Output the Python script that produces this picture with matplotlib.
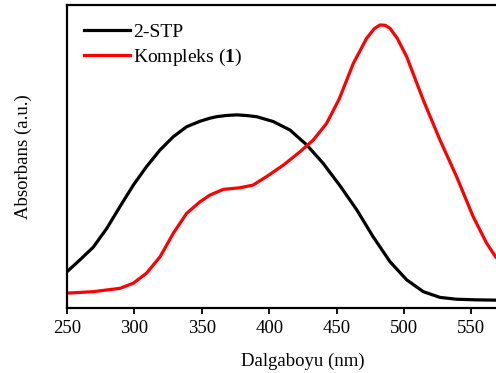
import matplotlib
matplotlib.use("Agg")
from matplotlib import pyplot as plt

# Data (absorbance in arbitrary units)
wl_stp = [250, 259.6, 269.5, 279.5, 289.3, 299.2, 309, 319, 328.9, 338.8, 348.7,
          356, 361, 368, 375.9, 383, 390.7, 403, 415.4, 427.8, 440, 452.5, 465,
          477, 489.6, 502, 514.3, 526.7, 539, 553, 568, 585, 600]
abs_stp = [0.119, 0.158, 0.20, 0.262, 0.334, 0.405, 0.466, 0.521, 0.565, 0.598,
           0.616, 0.626, 0.631, 0.635, 0.637, 0.635, 0.631, 0.615, 0.587, 0.538,
           0.477, 0.403, 0.323, 0.235, 0.152, 0.092, 0.053, 0.034, 0.028, 0.026,
           0.025, 0.024, 0.024]

wl_komp = [250, 269.5, 289.3, 299.2, 309, 319, 328.9, 338.8, 348.7, 356, 366,
           378, 388, 398, 410.5, 422.8, 432.7, 442.6, 452, 462.4, 472.3, 478,
           482.2, 486, 489.6, 495, 502, 514.3, 526.7, 539, 551.4, 561.3, 568,
           580, 600]
abs_komp = [0.048, 0.053, 0.064, 0.081, 0.114, 0.168, 0.246, 0.312, 0.350, 0.372,
            0.391, 0.396, 0.405, 0.433, 0.471, 0.515, 0.554, 0.609, 0.69, 0.807,
            0.89, 0.922, 0.934, 0.933, 0.923, 0.89, 0.829, 0.686, 0.554, 0.433,
            0.30, 0.213, 0.168, 0.11, 0.06]

labels = ['2-STP', r'Kompleks ($\mathbf{1}$)']
colors = ['black', 'red']

plt.rcParams['font.family'] = ['Liberation Serif', 'DejaVu Serif']
plt.rcParams['mathtext.fontset'] = 'custom'
plt.rcParams['mathtext.rm'] = 'Liberation Serif'
plt.rcParams['mathtext.bf'] = 'Liberation Serif:bold'

fig = plt.figure(figsize=(4.96, 3.73), dpi=100)
ax = fig.add_axes([67 / 496, (373 - 307.7) / 373, 471.8 / 496, 302.7 / 373])

ax.plot(wl_stp, abs_stp, color=colors[0], lw=2.3, label=labels[0],
        solid_joinstyle='round')
ax.plot(wl_komp, abs_komp, color=colors[1], lw=2.3, label=labels[1],
        solid_joinstyle='round')

ax.set_xlim(250, 600)
ax.set_ylim(0, 1)
ax.set_xticks(range(250, 551, 50))
ax.set_yticks([])
ax.tick_params(axis='x', direction='out', length=4, width=1.3, labelsize=13.5, pad=5)
for s in ax.spines.values():
    s.set_linewidth(1.6)

ax.set_xlabel('Dalgaboyu (nm)', fontsize=13.5, labelpad=11)
ax.set_ylabel('Absorbans (a.u.)', fontsize=13.5, labelpad=25)

ax.legend(loc='upper left', bbox_to_anchor=(0.035, 0.94), frameon=False,
          fontsize=14, handlelength=2.4, handletextpad=0.15, labelspacing=0.3,
          borderaxespad=0, borderpad=0)

fig.savefig('out.png', dpi=100)
plt.close()
